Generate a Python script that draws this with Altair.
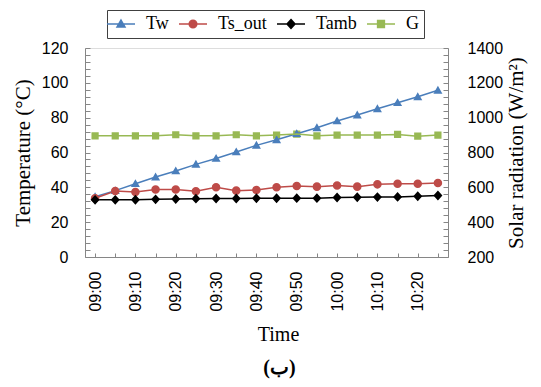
import altair as alt
import pandas as pd

times = ["09:00", "09:05", "09:10", "09:15", "09:20", "09:25", "09:30", "09:35", "09:40",
         "09:45", "09:50", "09:55", "10:00", "10:05", "10:10", "10:15", "10:20", "10:25"]
tw = [34.6, 38.1, 42.1, 45.9, 49.4, 53.2, 56.6, 60.3, 64.1,
      67.3, 70.8, 74.2, 78.1, 81.5, 85.1, 88.6, 92.0, 95.7]
ts_out = [33.7, 37.9, 37.3, 38.8, 38.8, 37.7, 40.0, 38.1, 38.5,
          40.0, 40.8, 40.4, 41.1, 40.4, 41.7, 42.1, 42.1, 42.5]
tamb = [32.8, 32.8, 32.9, 33.1, 33.3, 33.5, 33.6, 33.6, 33.7,
        33.7, 33.8, 33.8, 34.2, 34.3, 34.4, 34.5, 34.9, 35.3]
g = [896, 896, 896, 896, 902, 896, 896, 902, 896,
     900, 906, 896, 900, 900, 900, 904, 894, 900]

series_names = ["Tw", "Ts_out", "Tamb", "G"]
colors = ["#4a7ebb", "#be4b48", "#000000", "#98b954"]
shapes = [
    "M-3.5,0H3.5M0,-1L1,0.75H-1Z",
    "M-3.5,0H3.5M0.95,0A0.95,0.95,0,1,1,-0.95,0A0.95,0.95,0,1,1,0.95,0Z",
    "M-3.5,0H3.5M0,-1.1L1,0L0,1.1L-1,0Z",
    "M-3.5,0H3.5M-0.85,-0.85H0.85V0.85H-0.85Z",
]

minutes = [int(t[:2]) * 60 + int(t[3:]) - 540 for t in times]

temp_df = pd.DataFrame({
    "minute": minutes * 3,
    "series": ["Tw"] * len(times) + ["Ts_out"] * len(times) + ["Tamb"] * len(times),
    "value": tw + ts_out + tamb,
})
g_df = pd.DataFrame({"minute": minutes, "series": ["G"] * len(times), "value": g})

GRAY = "#868686"
SANS = "Liberation Sans"
SERIF = "Liberation Serif"

xscale = alt.Scale(domain=[-2.5, 87.5], nice=False, zero=False)
tscale = alt.Scale(domain=[0, 120], nice=False, zero=False)
gscale = alt.Scale(domain=[200, 1400], nice=False, zero=False)
cscale = alt.Scale(domain=series_names, range=colors)
sscale = alt.Scale(domain=series_names, range=shapes)

legend = alt.Legend(
    orient="none", legendX=22, legendY=-38, direction="horizontal", title=None,
    labelFont=SERIF, labelFontSize=18, labelColor="black",
    symbolSize=64, symbolStrokeWidth=1.5, labelOffset=16, columnPadding=7,
    padding=5, fillColor="white", strokeColor="#404040",
)

x_main = alt.Axis(
    orient="bottom", values=list(range(0, 90, 10)),
    labelExpr="format(9 + floor(datum.value / 60), '02d') + ':' + format(datum.value % 60, '02d')",
    labelAngle=270, labelFont=SANS, labelFontSize=16, labelColor="black", labelPadding=14,
    ticks=False, grid=False, domainColor=GRAY,
    title="Time", titleFont=SERIF, titleFontSize=20, titleFontWeight="normal",
    titleColor="black", titlePadding=13, titleX=193,
)
x_ticks = alt.Axis(
    orient="bottom", values=list(range(0, 90, 5)), labels=False, domain=False,
    ticks=True, tickSize=4, offset=-4, tickColor=GRAY, grid=False, title=None,
)
y_left_main = alt.Axis(
    orient="left", values=list(range(0, 121, 20)), ticks=False, grid=False,
    domainColor=GRAY, labelFont=SANS, labelFontSize=16, labelColor="black", labelPadding=17,
    title="Temperature (°C)", titleFont=SERIF, titleFontSize=21, titleFontWeight="normal",
    titleColor="black", titlePadding=8,
)
y_left_ticks = alt.Axis(
    orient="left", values=list(range(0, 121, 4)), labels=False, domain=False,
    ticks=True, tickSize=5, offset=-5, tickColor=GRAY, grid=False, title=None,
)
y_right_main = alt.Axis(
    orient="right", values=list(range(200, 1401, 200)), format="d", ticks=False, grid=False,
    domainColor=GRAY, labelFont=SANS, labelFontSize=16, labelColor="black", labelPadding=19,
    title="Solar radiation (W/m²)", titleFont=SERIF, titleFontSize=21, titleFontWeight="normal",
    titleColor="black", titlePadding=3, titleAngle=270, titleBaseline="top",
)
y_right_ticks = alt.Axis(
    orient="right", values=list(range(200, 1401, 40)), labels=False, domain=False,
    ticks=True, tickSize=5, offset=-5, tickColor=GRAY, grid=False, title=None,
)

g_points = alt.Chart(g_df).mark_point(filled=True, size=72, opacity=1).encode(
    x=alt.X("minute:Q", scale=xscale, axis=None),
    y=alt.Y("value:Q", scale=gscale, axis=y_right_ticks),
    color=alt.Color("series:N", scale=cscale, legend=legend),
    shape=alt.Shape("series:N", scale=sscale, legend=legend),
    stroke=alt.Stroke("series:N", scale=cscale, legend=legend),
    strokeWidth=alt.value(0),
)
temp_lines = alt.Chart(temp_df).mark_line(strokeWidth=1.5).encode(
    x=alt.X("minute:Q", scale=xscale, axis=x_main),
    y=alt.Y("value:Q", scale=tscale, axis=y_left_main),
    color=alt.Color("series:N", scale=cscale, legend=None),
    detail="series:N",
)
temp_points = alt.Chart(temp_df).mark_point(filled=True, size=81, opacity=1).encode(
    x=alt.X("minute:Q", scale=xscale, axis=None),
    y=alt.Y("value:Q", scale=tscale, axis=y_left_ticks),
    color=alt.Color("series:N", scale=cscale, legend=legend),
    shape=alt.Shape("series:N", scale=sscale, legend=legend),
    stroke=alt.Stroke("series:N", scale=cscale, legend=legend),
    strokeWidth=alt.value(0),
)
g_lines = alt.Chart(g_df).mark_line(strokeWidth=1.5).encode(
    x=alt.X("minute:Q", scale=xscale, axis=x_ticks),
    y=alt.Y("value:Q", scale=gscale, axis=y_right_main),
    color=alt.Color("series:N", scale=cscale, legend=None),
)

chart = alt.layer(g_points, temp_lines, temp_points, g_lines).resolve_scale(
    y="independent"
).resolve_axis(
    x="independent", y="independent"
).properties(
    width=363, height=209,
    autosize=alt.AutoSizeParams(type="none"),
    padding={"left": 77, "top": 40, "right": 85, "bottom": 130},
    title=alt.TitleParams("(ب)", orient="bottom", font=SERIF, fontSize=20, fontWeight="bold",
                          color="black", dx=13, offset=14),
).configure_view(stroke=GRAY, strokeWidth=1).configure(background="white")

chart.save("out.html", embed_options={"renderer": "svg", "actions": False})
